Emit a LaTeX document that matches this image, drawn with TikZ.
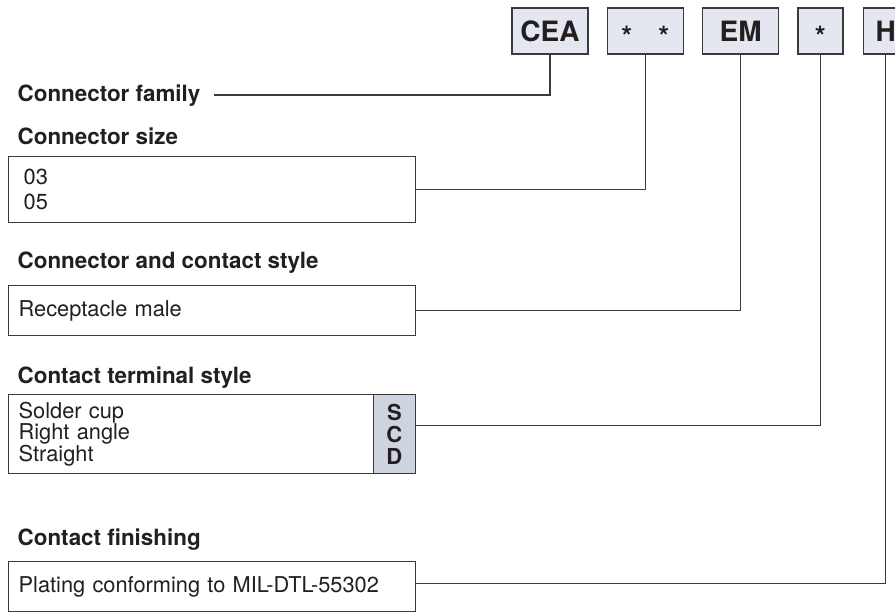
\documentclass[tikz,border=0pt]{standalone}
\usepackage{fontspec}
\setmainfont{TeX Gyre Heros}
\usetikzlibrary{positioning}
\definecolor{codefill}{HTML}{E4E7EF}
\definecolor{keyfill}{HTML}{CDD4E0}
\definecolor{ink}{HTML}{231F20}
\definecolor{rule}{HTML}{3A3A3A}

\begin{document}
\begin{tikzpicture}[x=1pt, y=-1pt, line width=1.3pt, node distance=18pt]
\tikzstyle{code}=[draw=rule, fill=codefill, text=ink, minimum height=46pt, minimum width=76pt, inner sep=0pt, font=\fontsize{28}{30}\selectfont\bfseries]
\tikzstyle{head}=[anchor=base west, inner sep=0pt, text=ink, font=\fontsize{22.4}{24}\selectfont\bfseries]
\tikzstyle{choice}=[draw=rule, fill=white, text=ink, anchor=north west, inner ysep=0pt, inner xsep=10pt, minimum width=407pt, text width=387pt, align=left, font=\fontsize{21.8}{23}\selectfont]
\useasboundingbox (0,0) rectangle (895,613);

% part number code
\node[code]    (cea)   at (550,31)           {CEA};
\node[code]    (size)  [right=of cea]        {\smash{\raisebox{-15pt}{*\hspace{26pt}*}}};
\node[code]    (style) [right=of size]       {EM};
\node[code, minimum width=45pt] (term) [right=of style] {\smash{\raisebox{-15pt}{*}}};
\node[code, minimum width=45pt] (fin)  [right=19pt of term] {H};

% headings
\node[head]    (famlbl)   at (17,101)  {Connector family};
\node[head]    (sizelbl)  at (17,144)  {Connector size};
\node[head]    (stylelbl) at (17,268)  {Connector and contact style};
\node[head]    (termlbl)  at (17,383)  {Contact terminal style};
\node[head]    (finlbl)   at (17,545)  {Contact finishing};

% option boxes
\node[choice, minimum height=66pt, inner xsep=15pt, text width=377pt, font=\fontsize{21.8}{25}\selectfont] (sizebox) at (8,156) {03\\05};
\node[choice, minimum height=50pt]  (stylebox) at (8,285) {Receptacle male};
\node[choice, minimum height=79pt, font=\fontsize{21.8}{21.5}\selectfont] (termbox) at (8,394) {Solder cup\\Right angle\\Straight};
\node[draw=rule, fill=keyfill, text=ink, anchor=north east, minimum width=42pt, minimum height=79pt, inner sep=0pt, align=center, font=\fontsize{22}{22}\selectfont\bfseries] (scd) at (416,394) {S\\C\\D};
\node[choice, minimum height=50pt]  (finbox) at (8,561) {Plating conforming to MIL-DTL-55302};

% leaders
\draw[rule] ([xshift=13pt]famlbl.east) -| (cea.south);
\draw[rule] (sizebox.east) -| (size.south);
\draw[rule] (stylebox.east) -| (style.south);
\draw[rule] ([yshift=8.5pt]scd.east) -| (term.south);
\draw[rule] ([yshift=3pt]finbox.east) -| (fin.south);
\end{tikzpicture}
\end{document}
